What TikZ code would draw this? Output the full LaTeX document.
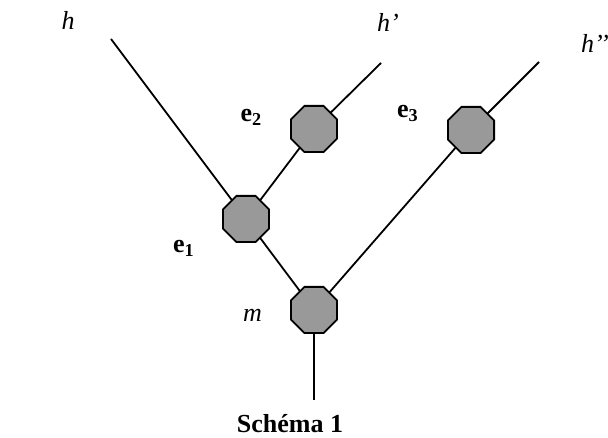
\documentclass[tikz,border=0pt]{standalone}
\usepackage{fontspec}
\setmainfont{Liberation Serif}
\usetikzlibrary{shapes.geometric}
\tikzset{
 oct/.style={regular polygon,regular polygon sides=8,minimum size=50pt,inner sep=0pt,draw,fill=black!40,line width=1.8pt},
 lab/.style={inner sep=0pt,font=\fontsize{26}{30}\selectfont},
 edge/.style={line width=1.8pt}
}
\begin{document}
\begin{tikzpicture}[x=1pt,y=1pt,line cap=butt,line join=miter]
 \useasboundingbox (0,0) rectangle (608,438);
 \coordinate (tp1) at (111,399);
 \coordinate (tp2) at (381,375);
 \coordinate (tp3) at (539,376);
 \coordinate (bot) at (314,38);
 \draw[edge] (tp1) -- (246,219) -- (314,309) -- (tp2);
 \draw[edge] (246,219) -- (314,128) -- (471,308) -- (tp3);
 \draw[edge] (314,128) -- (bot);
 \node[oct] (e1) at (246,219) {};
 \node[oct] (e2) at (314,309) {};
 \node[oct] (e3) at (471,308) {};
 \node[oct] (m) at (314,128) {};
 \node[lab,anchor=base] (h1) at (68,408) {\itshape h};
 \node[lab,anchor=base west] (h2) at (377,406) {\itshape h’};
 \node[lab,anchor=base west] (h3) at (581,385) {\itshape h’’};
 \node[lab,anchor=base west] (l1) at (173,185) {\textbf{e\textsubscript{1}}};
 \node[lab,anchor=base east] (l2) at (262,316) {\textbf{e\textsubscript{2}}};
 \node[lab,anchor=base west] (l3) at (397,320) {\textbf{e\textsubscript{3}}};
 \node[lab,anchor=base east] (lm) at (262,116) {\itshape m};
 \node[lab,anchor=base] (cap) at (290,5) {\textbf{Schéma 1}};
\end{tikzpicture}
\end{document}
